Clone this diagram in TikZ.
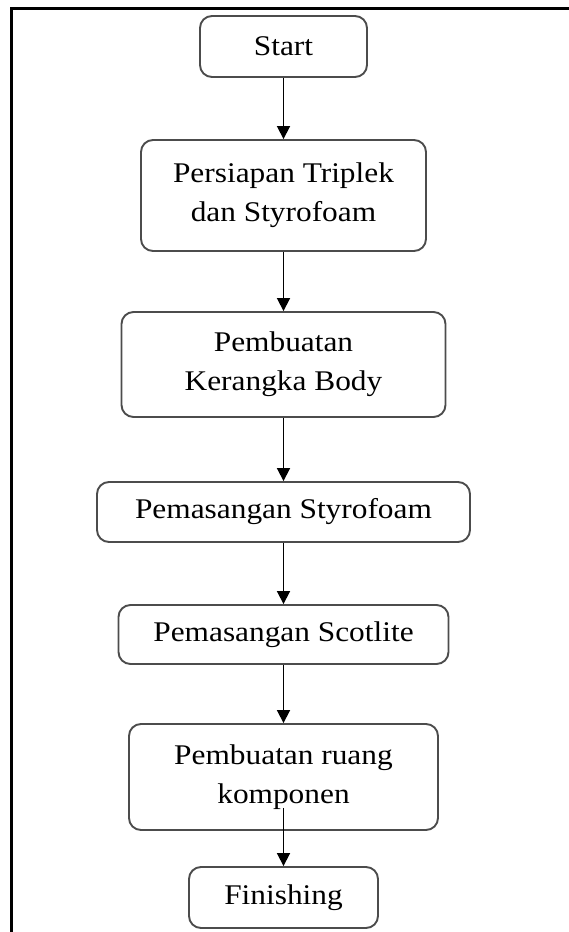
\documentclass[tikz,border=0pt]{standalone}
\usepackage{fontspec}
\setmainfont{Liberation Serif}[FakeStretch=1.1]
\usepackage{tikz}
\usetikzlibrary{arrows.meta}
\tikzset{prc/.style={draw=black!70, line width=1.9pt, rounded corners=12pt, align=center, inner sep=2pt, font=\fontsize{28.5}{39}\selectfont}}
\tikzset{arr/.style={-{Triangle[width=13pt,length=13pt]}, line width=1.8pt, draw=black}}

\begin{document}
\begin{tikzpicture}[x=1pt, y=1pt]
                        \useasboundingbox (0, 0) rectangle (569, -932);
                        \draw[line width=3pt] (569, -8) -- (11, -8) -- (11, -932);

                        \node[prc, minimum width=167pt, minimum height=61pt] (start) at (283.5, -46.5) {Start};
                        \node[prc, minimum width=285pt, minimum height=111pt] (nn0) at (283.5, -195.5) {Persiapan Triplek\\dan Styrofoam};
                        \node[prc, minimum width=324pt, minimum height=105pt] (nn1) at (283.5, -364.5) {Pembuatan\\Kerangka Body};
                        \node[prc, minimum width=373pt, minimum height=60pt] (nn2) at (283.5, -512) {Pemasangan Styrofoam};
                        \node[prc, minimum width=330pt, minimum height=59pt] (nn3) at (283.5, -634.5) {Pemasangan Scotlite};
                        \node[prc, minimum width=309pt, minimum height=106pt] (nn4) at (283.5, -777) {Pembuatan ruang\\komponen};
                        \node[prc, minimum width=189pt, minimum height=61pt] (finish) at (283.5, -897.5) {Finishing};

                        \draw
                        (start) edge[arr] (nn0)
                        (nn0) edge[arr] (nn1)
                        (nn1) edge[arr] (nn2)
                        (nn2) edge[arr] (nn3)
                        (nn3) edge[arr] (nn4)
                        ([yshift=23pt]nn4.south) edge[arr] (finish);
                    \end{tikzpicture}
\end{document}
